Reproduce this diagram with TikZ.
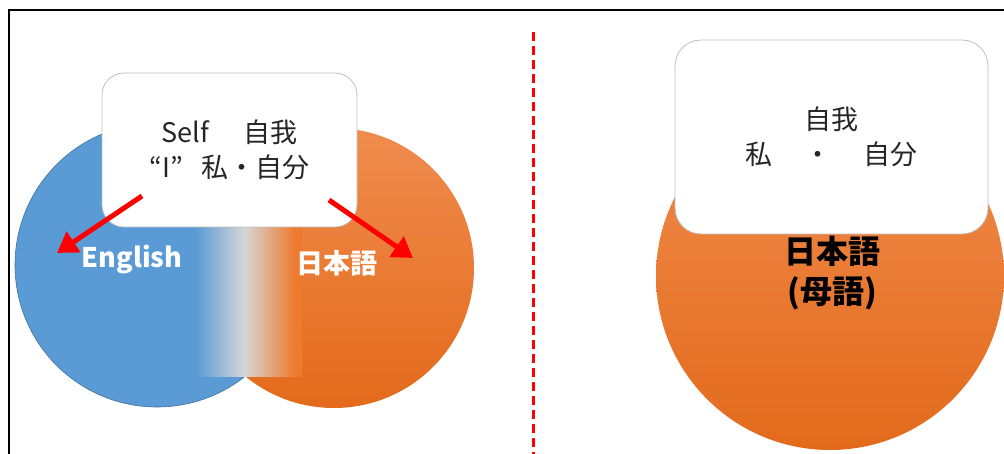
\documentclass[tikz,border=0pt]{standalone}
\usepackage{fontspec}
\setmainfont{Noto Sans CJK JP}
\usetikzlibrary{arrows.meta}
\definecolor{engblue}{HTML}{5B9BD5}
\definecolor{engedge}{HTML}{41719C}
\definecolor{ortop}{HTML}{F08C4E}
\definecolor{orbot}{HTML}{E36A1B}
\definecolor{orstrip}{HTML}{EE7A2E}
\definecolor{midgrey}{HTML}{D6D6D6}
\definecolor{txt}{HTML}{262626}
\pgfdeclarehorizontalshading{stripshade}{100bp}{color(0bp)=(engblue); color(29bp)=(engblue); color(50bp)=(midgrey); color(72bp)=(orstrip); color(100bp)=(orstrip)}
\tikzset{
  roundbox/.style={draw=black!25, line width=0.8pt, fill=white, rounded corners=22pt,
    align=center, text=txt, font=\fontsize{27}{35}\selectfont},
  redarrow/.style={draw=red, line width=5pt, -{Triangle[length=20pt,width=24pt]}},
  circlabel/.style={font=\bfseries\fontsize{27}{32}\selectfont, text=white},
}
\begin{document}
\begin{tikzpicture}[x=1pt,y=-1pt]
\useasboundingbox (0,0) rectangle (1004,454);
\begin{scope}
\clip (0,0) rectangle (1004,454);
% frame
\draw[line width=2pt] (9,470) -- (9,10) -- (1020,10);
% left diagram
\node[circle, fill=engblue, draw=engedge, line width=0.6pt, minimum size=284pt, inner sep=0pt] (eng) at (157,265) {};
\node[circle, top color=ortop, bottom color=orbot, draw=none, minimum size=280pt, inner sep=0pt] (jpn) at (334,268) {};
\shade[shading=stripshade] (187,200) rectangle (302,376);
\node[roundbox, minimum width=255pt, minimum height=154pt] (self) at (229.5,150) {Self\hspace{1.25em}自我\\“I”\hspace{0.7em}私・自分};
\coordinate (la) at (142,196);
\coordinate (lb) at (57,253);
\coordinate (ra) at (329,200);
\coordinate (rb) at (413,258);
\draw[redarrow] (la) -- (lb);
\draw[redarrow] (ra) -- (rb);
\node[circlabel] (englabel) at (132,260) {English};
\node[circlabel] (jplabel) at (337,263) {日本語};
% divider
\coordinate (d1) at (533,32);
\coordinate (d2) at (533,460);
\draw[red, line width=3pt, dash pattern=on 9pt off 5pt] (d1) -- (d2);
% right diagram
\node[circle, top color=ortop, bottom color=orbot, draw=none, minimum size=348pt, inner sep=0pt] (mother) at (830,276) {};
\node[roundbox, minimum width=313pt, minimum height=194pt, rounded corners=26pt] (self2) at (831.5,137) {自我\\私\hspace{1.2em}・\hspace{1.2em}自分};
\node[font=\bfseries\fontsize{32}{40}\selectfont, align=center] (mlabel) at (832,273) {日本語\\(母語)};
\end{scope}
\end{tikzpicture}
\end{document}
